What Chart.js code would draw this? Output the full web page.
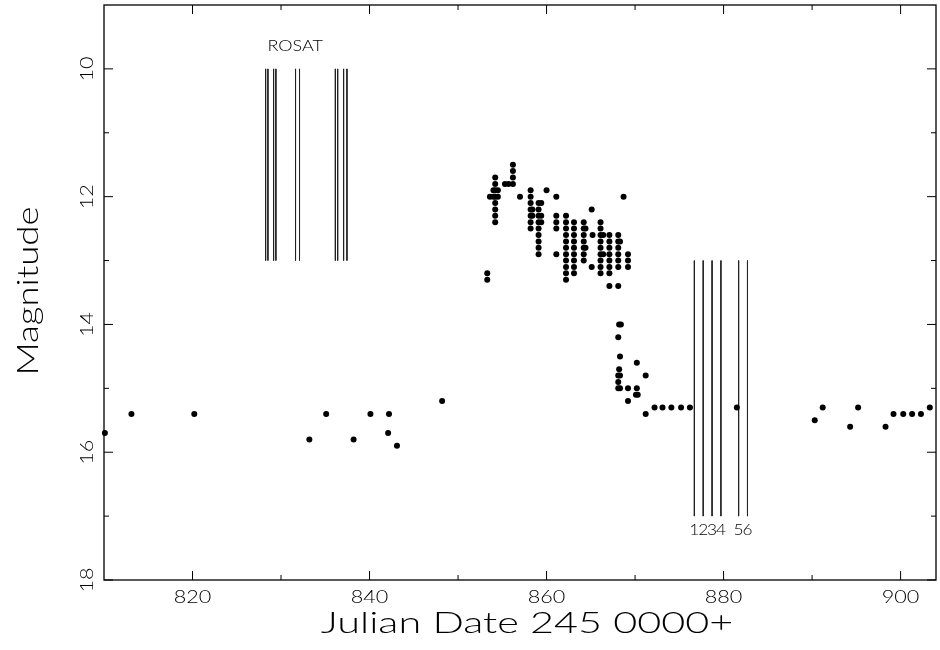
<!DOCTYPE html>
<html>
<head>
<meta charset="utf-8">
<script src="https://cdn.jsdelivr.net/npm/chart.js@4.4.1/dist/chart.umd.min.js"></script>
<style>
  html, body { margin: 0; padding: 0; background: #fff; }
  #lc { display: block; }
</style>
</head>
<body>
<canvas id="lc" width="940" height="650" style="width:940px;height:650px"></canvas>
<script>
// observed magnitudes, JD - 2450000
const obsDays = [
  810.1, 813.1, 820.2, 833.2, 835.1, 838.2, 840.1, 842.2, 842.1, 843.1, 848.2,
  853.3, 853.3, 853.6,
  854.2, 854.2, 854.2, 854.2, 854.2, 854.2, 854.2, 854.2,
  854.0, 854.0, 854.5, 854.5,
  855.3, 855.7,
  856.2, 856.2, 856.2, 856.2,
  857.0,
  858.2, 858.2, 858.2, 858.2, 858.2, 858.2, 858.2, 858.4, 858.4,
  859.1, 859.1, 859.1, 859.1, 859.1, 859.1, 859.1, 859.1, 859.1, 859.4, 859.4, 859.4,
  860.0,
  861.1, 861.1, 861.1, 861.1, 861.1,
  862.2, 862.2, 862.2, 862.2, 862.2, 862.2, 862.2, 862.2, 862.2, 862.2, 862.2,
  863.1, 863.1, 863.1, 863.1, 863.1, 863.1, 863.1, 863.1, 863.1,
  864.2, 864.2, 864.2, 864.2, 864.2, 864.2, 864.2, 864.4, 864.4,
  865.1, 865.2, 865.1,
  866.1, 866.1, 866.1, 866.1, 866.1, 866.1, 866.1, 866.1, 866.1, 866.4, 866.4,
  867.1, 867.1, 867.1, 867.1, 867.1, 867.1, 867.1, 867.1,
  868.1, 868.1, 868.1, 868.1, 868.1, 868.1, 868.1, 868.3,
  868.7,
  869.2, 869.2, 869.2,
  868.2, 868.4, 868.1, 868.3, 868.2, 868.1, 868.3, 868.1, 868.1, 868.3,
  869.2, 870.2, 870.2, 870.1, 870.3, 869.2, 871.2, 871.2,
  872.2, 873.1, 874.1, 875.2, 876.2, 881.5,
  890.3, 891.2, 894.3, 895.2, 898.3, 899.2, 900.3, 901.3, 902.3, 903.3
];
const obsMags = [
  15.7, 15.4, 15.4, 15.8, 15.4, 15.8, 15.4, 15.4, 15.7, 15.9, 15.2,
  13.2, 13.3, 12.0,
  11.7, 11.8, 11.9, 12.0, 12.1, 12.2, 12.3, 12.4,
  11.9, 12.0, 11.9, 12.0,
  11.8, 11.8,
  11.5, 11.6, 11.7, 11.8,
  12.0,
  11.9, 12.0, 12.1, 12.2, 12.3, 12.4, 12.5, 12.2, 12.3,
  12.1, 12.2, 12.3, 12.4, 12.5, 12.6, 12.7, 12.8, 12.9, 12.1, 12.3, 12.4,
  11.9,
  12.0, 12.3, 12.4, 12.5, 12.9,
  12.3, 12.4, 12.5, 12.6, 12.7, 12.8, 12.9, 13.0, 13.1, 13.2, 13.3,
  12.4, 12.5, 12.6, 12.7, 12.8, 12.9, 13.0, 13.1, 13.2,
  12.4, 12.5, 12.6, 12.7, 12.8, 12.9, 13.0, 12.5, 12.8,
  12.2, 12.6, 13.1,
  12.4, 12.5, 12.6, 12.7, 12.8, 12.9, 13.0, 13.1, 13.2, 12.6, 12.9,
  12.6, 12.7, 12.8, 12.9, 13.0, 13.1, 13.2, 13.4,
  12.6, 12.7, 12.8, 12.9, 13.0, 13.1, 13.4, 12.7,
  12.0,
  12.9, 13.0, 13.1,
  14.0, 14.0, 14.2, 14.5, 14.7, 14.8, 14.8, 14.9, 15.0, 15.0,
  15.0, 14.6, 15.0, 15.1, 15.1, 15.2, 14.8, 15.4,
  15.3, 15.3, 15.3, 15.3, 15.3, 15.3,
  15.5, 15.3, 15.6, 15.3, 15.6, 15.4, 15.4, 15.4, 15.4, 15.3
];

// ROSAT pointings and campaign markers
const rosatTimes = [828.26, 828.52, 829.16, 829.42, 831.64, 832.09, 836.14, 836.40, 837.07, 837.45];
const rosatSpan = [10, 13];
const campTimes = [876.7, 877.7, 878.7, 879.7, 881.7, 882.7];
const campLabels = ['1', '2', '3', '4', '5', '6'];
const campSpan = [13, 17];

const xMajor = [820, 840, 860, 880, 900];
const xMinor = [830, 850, 870, 890];
const xTickLabels = ['820', '840', '860', '880', '900'];
const yMajor = [10, 12, 14, 16, 18];
const yMinor = [11, 13, 15, 17];
const yTickLabels = ['10', '12', '14', '16', '18'];

const FONT = 'Lato, "DejaVu Sans", sans-serif';

const segs = (times, span) => {
  let out = [];
  times.forEach(t => {
    out.push({x: t, y: span[0]}, {x: t, y: span[1]}, {x: t, y: null});
  });
  return out;
};

// stretch text sideways so it is as wide as the old plotter lettering
function wideText(ctx, txt, x, y, stretch, rot) {
  ctx.save();
  ctx.translate(x, y);
  if (rot) ctx.rotate(rot);
  ctx.scale(stretch, 1);
  ctx.fillText(txt, 0, 0);
  ctx.restore();
}

const frame = {
  id: 'frame',
  afterDraw(chart) {
    const {ctx, chartArea: a, scales: {x, y}} = chart;
    ctx.save();
    ctx.strokeStyle = '#000';
    ctx.lineWidth = 1.3;
    ctx.strokeRect(a.left, a.top, a.right - a.left, a.bottom - a.top);

    ctx.lineWidth = 1;
    ctx.beginPath();
    const xt = (v, len) => {
      const p = x.getPixelForValue(v);
      ctx.moveTo(p, a.bottom); ctx.lineTo(p, a.bottom - len);
      ctx.moveTo(p, a.top); ctx.lineTo(p, a.top + len);
    };
    const yt = (v, len) => {
      const p = y.getPixelForValue(v);
      ctx.moveTo(a.left, p); ctx.lineTo(a.left + len, p);
      ctx.moveTo(a.right, p); ctx.lineTo(a.right - len, p);
    };
    xMajor.forEach(v => xt(v, 9));
    xMinor.forEach(v => xt(v, 5));
    yMajor.forEach(v => yt(v, 9));
    yMinor.forEach(v => yt(v, 5));
    ctx.stroke();

    ctx.fillStyle = '#000';
    ctx.textAlign = 'center';
    ctx.textBaseline = 'middle';
    ctx.font = '300 18px ' + FONT;
    xMajor.forEach((v, i) => {
      wideText(ctx, xTickLabels[i], x.getPixelForValue(v), a.bottom + 17, 1.2);
    });
    yMajor.forEach((v, i) => {
      wideText(ctx, yTickLabels[i], a.left - 17, y.getPixelForValue(v), 1.2, -Math.PI / 2);
    });

    // annotations
    ctx.font = '300 15px ' + FONT;
    wideText(ctx, 'ROSAT', x.getPixelForValue(831.6), y.getPixelForValue(9.65), 1.2);
    campTimes.forEach((t, i) => {
      wideText(ctx, campLabels[i], x.getPixelForValue(t), y.getPixelForValue(17.22), 1.15);
    });

    // axis titles
    ctx.font = '300 30px ' + FONT;
    wideText(ctx, 'Julian Date 245 0000+', 527, a.bottom + 43, 1.38);
    wideText(ctx, 'Magnitude', 28, 291, 1.22, -Math.PI / 2);
    ctx.restore();
  }
};

const ctx = document.getElementById('lc');

new Chart(ctx, {
  type: 'scatter',
  data: {
    datasets: [
      {
        data: obsDays.map((d, i) => ({x: d, y: obsMags[i]})),
        pointRadius: 3,
        pointBackgroundColor: '#000',
        pointBorderWidth: 0,
        clip: 6
      },
      {
        type: 'line',
        data: segs(rosatTimes, rosatSpan),
        borderColor: '#222',
        borderWidth: 1,
        pointRadius: 0,
        spanGaps: false
      },
      {
        type: 'line',
        data: segs(campTimes, campSpan),
        borderColor: '#222',
        borderWidth: 1,
        pointRadius: 0,
        spanGaps: false
      }
    ]
  },
  options: {
    responsive: false,
    animation: false,
    layout: { padding: { top: 5, right: 1 } },
    plugins: { legend: { display: false }, tooltip: { enabled: false } },
    scales: {
      x: {
        type: 'linear', min: 810, max: 904,
        grid: { display: false }, border: { display: false },
        ticks: { display: false },
        afterFit: s => { s.height = 70; }
      },
      y: {
        type: 'linear', min: 9, max: 18, reverse: true,
        grid: { display: false }, border: { display: false },
        ticks: { display: false },
        afterFit: s => { s.width = 104; }
      }
    }
  },
  plugins: [frame]
});
</script>
</body>
</html>
